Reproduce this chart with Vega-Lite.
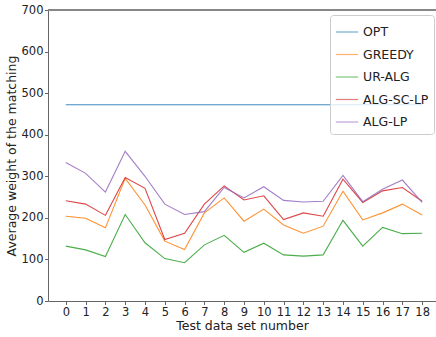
{
  "$schema": "https://vega.github.io/schema/vega-lite/v6.json",
  "autosize": "none",
  "padding": {"left": 48, "top": 10, "right": 0, "bottom": 36},
  "width": 388,
  "height": 291,
  "config": {
    "font": "DejaVu Sans",
    "view": {"stroke": null},
    "axis": {
      "domainColor": "#666666",
      "tickColor": "#666666",
      "labelColor": "#222222",
      "titleColor": "#222222",
      "labelFontSize": 11.5,
      "titleFontSize": 12.5,
      "titleFontWeight": "normal",
      "tickSize": 3.5,
      "grid": false
    }
  },
  "data": {
    "values": [
      {"set": 0, "alg": "OPT", "w": 472}, {"set": 1, "alg": "OPT", "w": 472}, {"set": 2, "alg": "OPT", "w": 472}, {"set": 3, "alg": "OPT", "w": 472}, {"set": 4, "alg": "OPT", "w": 472}, {"set": 5, "alg": "OPT", "w": 472}, {"set": 6, "alg": "OPT", "w": 472}, {"set": 7, "alg": "OPT", "w": 472}, {"set": 8, "alg": "OPT", "w": 472}, {"set": 9, "alg": "OPT", "w": 472}, {"set": 10, "alg": "OPT", "w": 472}, {"set": 11, "alg": "OPT", "w": 472}, {"set": 12, "alg": "OPT", "w": 472}, {"set": 13, "alg": "OPT", "w": 472}, {"set": 14, "alg": "OPT", "w": 472}, {"set": 15, "alg": "OPT", "w": 472}, {"set": 16, "alg": "OPT", "w": 472}, {"set": 17, "alg": "OPT", "w": 472}, {"set": 18, "alg": "OPT", "w": 472},
      {"set": 0, "alg": "GREEDY", "w": 204}, {"set": 1, "alg": "GREEDY", "w": 199}, {"set": 2, "alg": "GREEDY", "w": 176}, {"set": 3, "alg": "GREEDY", "w": 295}, {"set": 4, "alg": "GREEDY", "w": 231}, {"set": 5, "alg": "GREEDY", "w": 144}, {"set": 6, "alg": "GREEDY", "w": 124}, {"set": 7, "alg": "GREEDY", "w": 212}, {"set": 8, "alg": "GREEDY", "w": 248}, {"set": 9, "alg": "GREEDY", "w": 192}, {"set": 10, "alg": "GREEDY", "w": 221}, {"set": 11, "alg": "GREEDY", "w": 183}, {"set": 12, "alg": "GREEDY", "w": 163}, {"set": 13, "alg": "GREEDY", "w": 180}, {"set": 14, "alg": "GREEDY", "w": 264}, {"set": 15, "alg": "GREEDY", "w": 195}, {"set": 16, "alg": "GREEDY", "w": 212}, {"set": 17, "alg": "GREEDY", "w": 233}, {"set": 18, "alg": "GREEDY", "w": 207},
      {"set": 0, "alg": "UR-ALG", "w": 132}, {"set": 1, "alg": "UR-ALG", "w": 123}, {"set": 2, "alg": "UR-ALG", "w": 107}, {"set": 3, "alg": "UR-ALG", "w": 208}, {"set": 4, "alg": "UR-ALG", "w": 140}, {"set": 5, "alg": "UR-ALG", "w": 102}, {"set": 6, "alg": "UR-ALG", "w": 92}, {"set": 7, "alg": "UR-ALG", "w": 135}, {"set": 8, "alg": "UR-ALG", "w": 158}, {"set": 9, "alg": "UR-ALG", "w": 117}, {"set": 10, "alg": "UR-ALG", "w": 139}, {"set": 11, "alg": "UR-ALG", "w": 111}, {"set": 12, "alg": "UR-ALG", "w": 108}, {"set": 13, "alg": "UR-ALG", "w": 111}, {"set": 14, "alg": "UR-ALG", "w": 194}, {"set": 15, "alg": "UR-ALG", "w": 132}, {"set": 16, "alg": "UR-ALG", "w": 177}, {"set": 17, "alg": "UR-ALG", "w": 162}, {"set": 18, "alg": "UR-ALG", "w": 163},
      {"set": 0, "alg": "ALG-SC-LP", "w": 241}, {"set": 1, "alg": "ALG-SC-LP", "w": 233}, {"set": 2, "alg": "ALG-SC-LP", "w": 206}, {"set": 3, "alg": "ALG-SC-LP", "w": 297}, {"set": 4, "alg": "ALG-SC-LP", "w": 271}, {"set": 5, "alg": "ALG-SC-LP", "w": 148}, {"set": 6, "alg": "ALG-SC-LP", "w": 163}, {"set": 7, "alg": "ALG-SC-LP", "w": 233}, {"set": 8, "alg": "ALG-SC-LP", "w": 277}, {"set": 9, "alg": "ALG-SC-LP", "w": 243}, {"set": 10, "alg": "ALG-SC-LP", "w": 253}, {"set": 11, "alg": "ALG-SC-LP", "w": 196}, {"set": 12, "alg": "ALG-SC-LP", "w": 212}, {"set": 13, "alg": "ALG-SC-LP", "w": 204}, {"set": 14, "alg": "ALG-SC-LP", "w": 293}, {"set": 15, "alg": "ALG-SC-LP", "w": 237}, {"set": 16, "alg": "ALG-SC-LP", "w": 265}, {"set": 17, "alg": "ALG-SC-LP", "w": 273}, {"set": 18, "alg": "ALG-SC-LP", "w": 240},
      {"set": 0, "alg": "ALG-LP", "w": 333}, {"set": 1, "alg": "ALG-LP", "w": 307}, {"set": 2, "alg": "ALG-LP", "w": 262}, {"set": 3, "alg": "ALG-LP", "w": 360}, {"set": 4, "alg": "ALG-LP", "w": 300}, {"set": 5, "alg": "ALG-LP", "w": 233}, {"set": 6, "alg": "ALG-LP", "w": 208}, {"set": 7, "alg": "ALG-LP", "w": 215}, {"set": 8, "alg": "ALG-LP", "w": 273}, {"set": 9, "alg": "ALG-LP", "w": 248}, {"set": 10, "alg": "ALG-LP", "w": 275}, {"set": 11, "alg": "ALG-LP", "w": 242}, {"set": 12, "alg": "ALG-LP", "w": 238}, {"set": 13, "alg": "ALG-LP", "w": 240}, {"set": 14, "alg": "ALG-LP", "w": 302}, {"set": 15, "alg": "ALG-LP", "w": 239}, {"set": 16, "alg": "ALG-LP", "w": 269}, {"set": 17, "alg": "ALG-LP", "w": 291}, {"set": 18, "alg": "ALG-LP", "w": 237}
    ]
  },
  "layer": [
    {
      "mark": {"type": "rule", "stroke": "#888888", "strokeOpacity": 0.8, "strokeWidth": 1},
      "encoding": {"y": {"datum": 700, "type": "quantitative"}}
    },
    {
      "mark": {"type": "line", "strokeWidth": 1.1, "opacity": 0.85, "clip": true},
      "encoding": {
        "x": {
          "field": "set",
          "type": "quantitative",
          "scale": {"domain": [-0.9, 18.7], "nice": false, "zero": false},
          "axis": {"values": [0, 1, 2, 3, 4, 5, 6, 7, 8, 9, 10, 11, 12, 13, 14, 15, 16, 17, 18], "title": "Test data set number", "titlePadding": 1, "labelPadding": 2}
        },
        "y": {
          "field": "w",
          "type": "quantitative",
          "scale": {"domain": [0, 700], "nice": false},
          "axis": {"values": [0, 100, 200, 300, 400, 500, 600, 700], "title": "Average weight of the matching", "titlePadding": 3, "labelPadding": 1.5}
        },
        "color": {
          "field": "alg",
          "type": "nominal",
          "sort": ["OPT", "GREEDY", "UR-ALG", "ALG-SC-LP", "ALG-LP"],
          "scale": {"domain": ["OPT", "GREEDY", "UR-ALG", "ALG-SC-LP", "ALG-LP"], "range": ["#1f77b4", "#ff7f0e", "#2ca02c", "#d62728", "#9467bd"]},
          "legend": {
            "title": null,
            "orient": "none",
            "legendX": 282,
            "legendY": 5,
            "symbolType": "stroke",
            "symbolSize": 500,
            "symbolStrokeWidth": 1.2,
            "symbolOpacity": 0.6,
            "labelFontSize": 12.5,
            "labelColor": "#222222",
            "rowPadding": 3.5,
            "padding": 5,
            "strokeColor": "#cccccc",
            "fillColor": "rgba(255,255,255,0.8)",
            "cornerRadius": 3
          }
        }
      }
    }
  ]
}
